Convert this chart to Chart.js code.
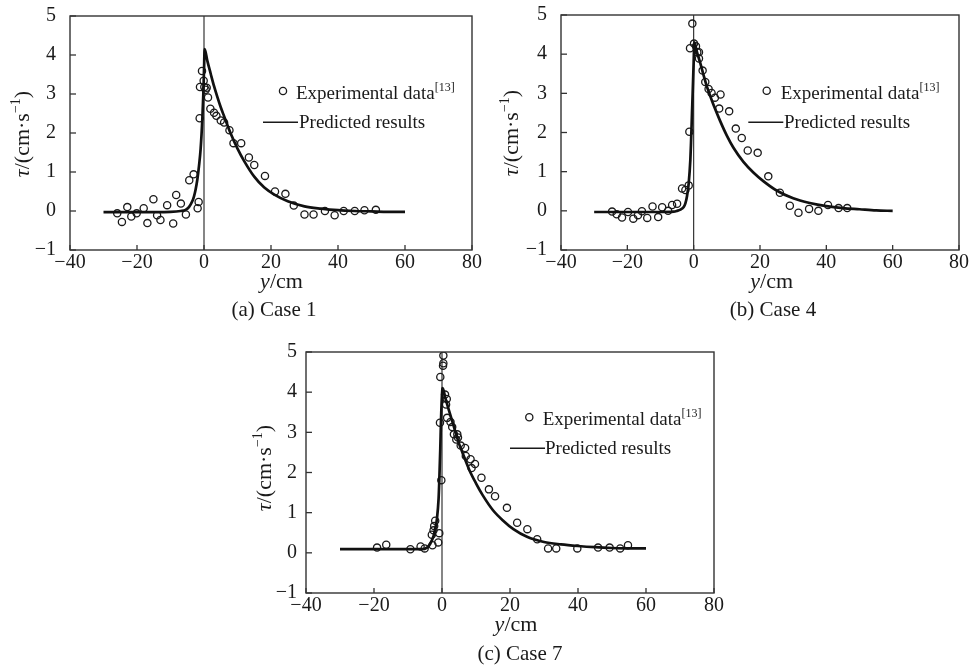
<!DOCTYPE html>
<html><head><meta charset="utf-8">
<script src="https://cdn.jsdelivr.net/npm/chart.js@4.4.1/dist/chart.umd.min.js"></script>
<style>
html,body{margin:0;padding:0;background:#fff;}
body{width:976px;height:669px;position:relative;overflow:hidden;}
canvas{position:absolute;display:block;}
</style></head><body>
<canvas id="ca" width="488" height="330" style="left:0;top:0"></canvas>
<canvas id="cb" width="488" height="330" style="left:488px;top:0"></canvas>
<canvas id="cc" width="490" height="339" style="left:245px;top:330px"></canvas>
<script>
// ---------------- data ----------------
const xTickValues = [-40, -20, 0, 20, 40, 60, 80];
const yTickValues = [-1, 0, 1, 2, 3, 4, 5];
const legendExp = 'Experimental data';
const legendRef = '[13]';
const legendPred = 'Predicted results';
const xTitleVar = 'y';
const xTitleUnit = '/cm';
const yTitleVar = 'τ';
const yTitleUnit = '/(cm·s';
const yTitleExp = '−1';
const captions = ['(a) Case 1', '(b) Case 4', '(c) Case 7'];

// Case 1 experimental
const case1ExpX = [-25.9,-24.5,-22.9,-21.7,-20.1,-18.0,-16.9,-15.1,-14.0,-13.0,-11.0,-9.2,-8.3,-6.9,-5.4,-4.4,-3.1,-1.9,-1.6,-1.3,-1.2,-0.6,-0.1,0.1,0.8,0.5,1.2,1.9,3.0,3.7,5.0,6.0,7.6,8.8,11.1,13.4,15.0,18.2,21.2,24.3,26.8,30.0,32.7,36.1,39.0,41.7,45.0,47.9,51.3];
const case1ExpY = [-0.06,-0.28,0.10,-0.14,-0.06,0.07,-0.31,0.30,-0.11,-0.23,0.15,-0.32,0.41,0.19,-0.09,0.79,0.94,0.07,0.23,2.38,3.18,3.59,3.34,3.18,3.16,3.11,2.91,2.62,2.52,2.44,2.32,2.27,2.07,1.74,1.74,1.37,1.18,0.90,0.50,0.44,0.14,-0.09,-0.09,0.0,-0.11,0.0,0.0,0.02,0.03];
// Case 1 predicted
const case1PredX = [-30,-20,-10,-7,-5.5,-4.5,-3.5,-3,-2.5,-2,-1.5,-1,-0.5,-0.2,0,0.2,1,2,3,4,5,6,8,10,12,15,18,21,25,30,35,40,45,50,55,60];
const case1PredY = [-0.03,-0.03,-0.02,0.0,0.03,0.1,0.25,0.37,0.55,0.8,1.15,1.6,2.35,3.0,3.6,4.15,3.85,3.52,3.2,2.92,2.66,2.43,1.98,1.6,1.28,0.88,0.6,0.42,0.25,0.12,0.06,0.02,0.0,-0.01,-0.02,-0.02];

// Case 4 experimental
const case4ExpX = [-24.6,-23.2,-21.6,-19.8,-18.2,-16.8,-15.6,-14.0,-12.4,-10.7,-9.5,-7.7,-6.5,-5.0,-3.5,-2.5,-1.5,-1.3,-1.1,-0.4,0.1,0.7,1.1,1.6,1.6,2.7,3.5,4.5,5.4,6.4,8.1,7.7,10.7,12.7,14.5,16.3,19.3,22.5,26.0,29.0,31.6,34.8,37.6,40.5,43.7,46.3];
const case4ExpY = [-0.02,-0.09,-0.17,-0.03,-0.20,-0.11,-0.01,-0.18,0.11,-0.16,0.09,0.0,0.15,0.18,0.57,0.53,0.65,2.02,4.15,4.78,4.27,4.20,4.05,4.05,3.89,3.58,3.29,3.11,3.01,2.89,2.97,2.61,2.54,2.10,1.86,1.54,1.48,0.88,0.46,0.13,-0.05,0.05,0.0,0.15,0.07,0.07];
// Case 4 predicted
const case4PredX = [-30,-20,-10,-6,-5,-4,-3,-2.5,-2,-1.5,-1,-0.8,-0.5,-0.3,0,0.2,1,2,3,4,5,6,8,10,12,15,18,21,25,30,35,40,45,50,55,60];
const case4PredY = [-0.03,-0.03,-0.03,-0.02,0.0,0.03,0.1,0.19,0.38,0.7,1.3,1.73,2.5,3.0,3.8,4.3,4.05,3.77,3.46,3.17,2.93,2.7,2.29,1.92,1.61,1.25,0.98,0.76,0.52,0.32,0.2,0.12,0.07,0.04,0.01,0.0];

// Case 7 experimental
const case7ExpX = [-19.1,-16.4,-9.3,-6.3,-5.1,-2.8,-3.0,-2.5,-2.3,-2.0,-1.1,-0.8,-0.6,-0.2,-0.5,0.3,0.4,0.4,0.9,1.4,1.2,1.5,2.5,3.0,3.5,4.2,4.5,4.7,5.5,6.8,7.0,8.4,8.7,9.7,11.6,13.8,15.6,19.1,22.1,25.1,28.0,31.2,33.6,39.8,45.9,49.3,52.4,54.7];
const case7ExpY = [0.13,0.20,0.09,0.16,0.11,0.19,0.45,0.56,0.67,0.80,0.26,0.49,3.24,1.81,4.38,4.66,4.72,4.91,3.94,3.83,3.69,3.36,3.26,3.13,2.95,2.82,2.95,2.87,2.67,2.61,2.41,2.33,2.11,2.21,1.87,1.58,1.41,1.12,0.75,0.59,0.34,0.11,0.11,0.11,0.13,0.13,0.11,0.19];
// Case 7 predicted
const case7PredX = [-30,-20,-10,-6,-4.4,-3.5,-2.45,-2,-1.47,-1,-0.79,-0.5,-0.3,0.08,0.2,1,2,3,4,5,6,8,10,12,15,18,21,25,30,35,40,45,50,55,60];
const case7PredY = [0.09,0.09,0.09,0.09,0.13,0.22,0.43,0.6,0.86,1.35,1.81,2.6,3.28,4.05,4.1,3.85,3.56,3.28,3.0,2.72,2.5,2.07,1.73,1.43,1.06,0.8,0.59,0.4,0.27,0.21,0.17,0.14,0.12,0.11,0.11];

// ---------------- layout (canvas coordinates) ----------------
const SERIF = '"Liberation Serif", "Times New Roman", serif';
const panels = [
  { id:'ca', caption:captions[0], expX:case1ExpX, expY:case1ExpY, predX:case1PredX, predY:case1PredY,
    yW:70, xH:80, padR:16, padT:16, yLabPad:14,
    leg:{cx:283, cy:91, ex:296, eb:98.7, lx1:263, lx2:298, ly:122.3, px:299, pb:128.3},
    xt:{cx:281.5, b:288}, cap:{cx:274, b:316}, yt:{x:29, cy:134} },
  { id:'cb', caption:captions[1], expX:case4ExpX, expY:case4ExpY, predX:case4PredX, predY:case4PredY,
    yW:73, xH:80, padR:17, padT:15, yLabPad:14,
    leg:{cx:278.7, cy:90.7, ex:292.7, eb:99.3, lx1:260.3, lx2:295.3, ly:122.3, px:296, pb:128.3},
    xt:{cx:283.7, b:288}, cap:{cx:285, b:316}, yt:{x:30, cy:133} },
  { id:'cc', caption:captions[2], expX:case7ExpX, expY:case7ExpY, predX:case7PredX, predY:case7PredY,
    yW:61, xH:76, padR:21, padT:22, yLabPad:9,
    leg:{cx:284.3, cy:87.3, ex:297.7, eb:95, lx1:265, lx2:300, ly:118.3, px:300, pb:124},
    xt:{cx:271, b:301}, cap:{cx:275, b:329.5}, yt:{x:26, cy:138} }
];

function zip(xs, ys){ const n = Math.min(xs.length, ys.length); const out=[]; for(let i=0;i<n;i++) out.push({x:xs[i], y:ys[i]}); return out; }

function drawRich(ctx, parts, x, y, align){
  let total = 0;
  parts.forEach(p => { ctx.font = p.font; p.w = ctx.measureText(p.t).width; total += p.w; });
  let cx = align === 'center' ? x - total/2 : (align === 'right' ? x - total : x);
  ctx.textAlign = 'left'; ctx.textBaseline = 'alphabetic';
  parts.forEach(p => { ctx.font = p.font; ctx.fillText(p.t, cx, y + (p.dy||0)); cx += p.w; });
}

function makeDecor(P){
  return {
    id: 'decor',
    beforeDatasetsDraw(chart){
      const {ctx, chartArea:a} = chart;
      const x0 = chart.scales.x.getPixelForValue(0);
      ctx.save();
      ctx.strokeStyle = '#222'; ctx.lineWidth = 1.1;
      ctx.beginPath(); ctx.moveTo(x0, a.top); ctx.lineTo(x0, a.bottom); ctx.stroke();
      ctx.restore();
    },
    afterDraw(chart){
      const {ctx, chartArea:a} = chart;
      const xs = chart.scales.x, ys = chart.scales.y;
      ctx.save();
      // frame
      ctx.strokeStyle = '#333'; ctx.lineWidth = 1.4;
      ctx.strokeRect(a.left, a.top, a.right - a.left, a.bottom - a.top);
      // inward tick marks
      ctx.lineWidth = 1.3; ctx.strokeStyle = '#333';
      ys.ticks.forEach(t => { const py = ys.getPixelForValue(t.value); ctx.beginPath(); ctx.moveTo(a.left, py); ctx.lineTo(a.left + 6, py); ctx.stroke(); });
      xs.ticks.forEach(t => { const px = xs.getPixelForValue(t.value); ctx.beginPath(); ctx.moveTo(px, a.bottom); ctx.lineTo(px, a.bottom - 5); ctx.stroke(); });
      ctx.fillStyle = '#1a1a1a';
      // legend
      const L = P.leg;
      ctx.lineWidth = 1.3; ctx.strokeStyle = '#1a1a1a';
      ctx.beginPath(); ctx.arc(L.cx, L.cy, 3.6, 0, Math.PI*2); ctx.stroke();
      drawRich(ctx, [{t:legendExp, font:'19px '+SERIF}, {t:legendRef, font:'12px '+SERIF, dy:-8}], L.ex, L.eb, 'left');
      ctx.lineWidth = 1.6;
      ctx.beginPath(); ctx.moveTo(L.lx1, L.ly); ctx.lineTo(L.lx2, L.ly); ctx.stroke();
      drawRich(ctx, [{t:legendPred, font:'19px '+SERIF}], L.px, L.pb, 'left');
      // x title
      drawRich(ctx, [{t:xTitleVar, font:'italic 22px '+SERIF}, {t:xTitleUnit, font:'22px '+SERIF}], P.xt.cx, P.xt.b, 'center');
      // caption
      drawRich(ctx, [{t:P.caption, font:'21px '+SERIF}], P.cap.cx, P.cap.b, 'center');
      // y title (rotated)
      ctx.translate(P.yt.x, P.yt.cy); ctx.rotate(-Math.PI/2);
      drawRich(ctx, [{t:yTitleVar, font:'italic 22px '+SERIF}, {t:yTitleUnit, font:'22px '+SERIF}, {t:yTitleExp, font:'14px '+SERIF, dy:-9}, {t:')', font:'22px '+SERIF}], 0, 0, 'center');
      ctx.restore();
    }
  };
}

const fmt = v => String(v).replace('-', '\u2212');

panels.forEach(P => {
  new Chart(document.getElementById(P.id), {
    type: 'scatter',
    data: {
      datasets: [
        { type:'line', label:legendPred, data: zip(P.predX, P.predY), borderColor:'#111', borderWidth:2.7,
          pointRadius:0, fill:false, cubicInterpolationMode:'monotone', tension:0.4 },
        { type:'scatter', label:legendExp, data: zip(P.expX, P.expY), pointStyle:'circle', pointRadius:3.6,
          pointBorderWidth:1.3, borderColor:'#1a1a1a', backgroundColor:'rgba(255,255,255,0)', pointBackgroundColor:'rgba(255,255,255,0)' }
      ]
    },
    options: {
      responsive:false, animation:false, devicePixelRatio:1,
      layout:{ padding:{ left:0, right:P.padR, top:P.padT, bottom:0 } },
      plugins:{ legend:{display:false}, tooltip:{enabled:false} },
      scales:{
        x:{ type:'linear', min:xTickValues[0], max:xTickValues[xTickValues.length-1],
            afterBuildTicks: s => { s.ticks = xTickValues.map(v => ({value:v})); },
            grid:{display:false, drawTicks:false}, border:{display:false},
            ticks:{ callback: fmt, font:{family:SERIF, size:20}, color:'#1a1a1a', padding:1, maxRotation:0, autoSkip:false },
            afterFit: s => { s.height = P.xH; s.paddingLeft = 0; s.paddingRight = 0; } },
        y:{ type:'linear', min:yTickValues[0], max:yTickValues[yTickValues.length-1],
            afterBuildTicks: s => { s.ticks = yTickValues.map(v => ({value:v})); },
            grid:{display:false, drawTicks:false}, border:{display:false},
            ticks:{ callback: fmt, font:{family:SERIF, size:20}, color:'#1a1a1a', padding:P.yLabPad, autoSkip:false },
            afterFit: s => { s.width = P.yW; s.paddingTop = 0; s.paddingBottom = 0; } }
      }
    },
    plugins:[makeDecor(P)]
  });
});
</script>
</body></html>
